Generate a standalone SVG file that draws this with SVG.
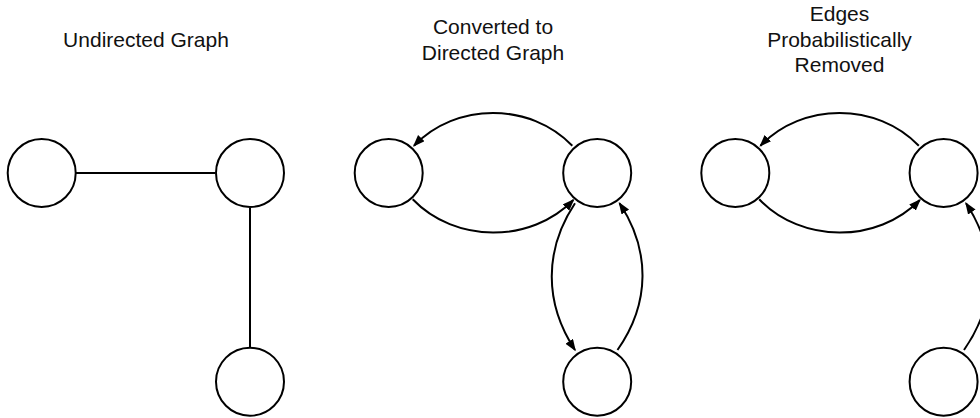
<svg xmlns="http://www.w3.org/2000/svg" width="980" height="418" viewBox="0 0 980 418">
  <style>
    .node { fill: #fff; stroke: #000; stroke-width: 2; }
    .edge { fill: none; stroke: #000; stroke-width: 2; }
    .title { font-family: "Liberation Sans", Arial, sans-serif; font-size: 21px; fill: #111; text-anchor: middle; }
  </style>
  <defs>
    <marker id="arrow" markerUnits="userSpaceOnUse" markerWidth="13" markerHeight="11" refX="10.5" refY="4.5" orient="auto">
      <path d="M0,0 L12,4.5 L0,9 z" fill="#000"/>
    </marker>
  </defs>

  <rect width="980" height="418" fill="#fff"/>

  <!-- Titles -->
  <g id="titles">
    <text class="title" x="146" y="47">Undirected Graph</text>
    <text class="title" x="493" y="34">Converted to</text>
    <text class="title" x="493" y="60">Directed Graph</text>
    <text class="title" x="839.5" y="21">Edges</text>
    <text class="title" x="839.5" y="46.5">Probabilistically</text>
    <text class="title" x="839.5" y="72">Removed</text>
  </g>

  <!-- Connectors -->
  <g id="connectors">
    <!-- undirected graph -->
    <line class="edge" x1="76" y1="173" x2="215" y2="173"/>
    <line class="edge" x1="250" y1="208" x2="250" y2="347"/>

    <!-- directed graph -->
    <path class="edge" marker-end="url(#arrow)" d="M572.3,145.7 C530,102 456,102 414,145.7"/>
    <path class="edge" marker-end="url(#arrow)" d="M412.7,199.3 C455,243.5 531,243.5 573.3,200"/>
    <path class="edge" marker-end="url(#arrow)" d="M575,203.3 C544,250 544,303 575,350"/>
    <path class="edge" marker-end="url(#arrow)" d="M617.5,350 C650.5,303 650.5,250 619.5,203.3"/>

    <!-- edges probabilistically removed -->
    <path class="edge" marker-end="url(#arrow)" d="M918.8,145.7 C876.5,102 802.5,102 760.5,145.7"/>
    <path class="edge" marker-end="url(#arrow)" d="M759.2,199.3 C801.5,243.5 877.5,243.5 919.8,200"/>
    <path class="edge" marker-end="url(#arrow)" d="M964,350 C997,303 997,250 966,203.3"/>
  </g>

  <!-- Nodes: undirected graph -->
  <g id="u-a"><circle class="node" cx="41.7" cy="173" r="34"/></g>
  <g id="u-b"><circle class="node" cx="250" cy="173" r="34"/></g>
  <g id="u-c"><circle class="node" cx="250" cy="381.7" r="34"/></g>

  <!-- Nodes: directed graph -->
  <g id="d-a"><circle class="node" cx="388.7" cy="173" r="34"/></g>
  <g id="d-b"><circle class="node" cx="597.2" cy="173" r="34"/></g>
  <g id="d-c"><circle class="node" cx="597.2" cy="381.7" r="34"/></g>

  <!-- Nodes: pruned graph -->
  <g id="p-a"><circle class="node" cx="735.3" cy="173" r="34"/></g>
  <g id="p-b"><circle class="node" cx="943.6" cy="173" r="34"/></g>
  <g id="p-c"><circle class="node" cx="943.6" cy="381.7" r="34"/></g>
</svg>
